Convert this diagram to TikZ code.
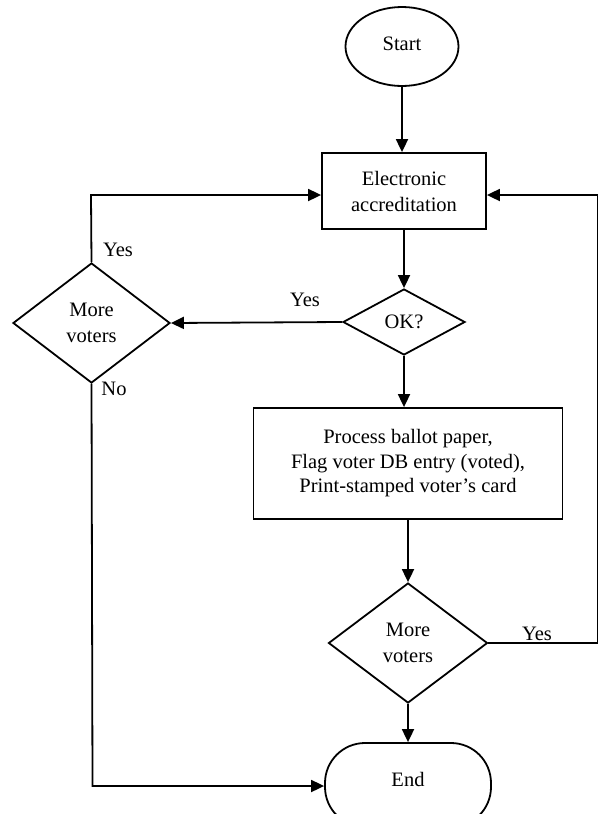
\documentclass[tikz,border=0pt]{standalone}
\usepackage{fontspec}
\setmainfont{Liberation Serif}
\usetikzlibrary{shapes.geometric,arrows.meta}
\begin{document}
\begin{tikzpicture}[x=1pt,y=-1pt,
  every node/.style={font=\fontsize{20.5}{26}\selectfont, inner sep=0pt},
  shp/.style={draw, line width=1.8pt, align=center},
  dmd/.style={shp, diamond, minimum width=#1, minimum height=120pt},
  box/.style={shp, rectangle},
  conn/.style={line width=1.8pt},
  arr/.style={conn, -{Triangle[length=13pt,width=12pt]}},
  lbl/.style={}]
\useasboundingbox (0,0) rectangle (599,814);
\clip (0,0) rectangle (599,814);
\node[shp, ellipse, minimum width=113pt, minimum height=79pt] (start) at (402,46.5) {\raisebox{6pt}{Start}};
\node[box, minimum width=164pt, minimum height=76pt] (ea) at (404,191) {Electronic\\accreditation};
\node[shp, diamond, minimum width=122pt, minimum height=66pt] (ok) at (404,322) {OK?};
\node[dmd=157pt] (lm) at (91.5,323) {More\\voters};
\node[box, minimum width=309pt, minimum height=111pt, font=\fontsize{20.5}{24.5}\selectfont] (proc) at (408,463.5) {Process ballot paper,\\Flag voter DB entry (voted),\\Print-stamped voter’s card};
\node[dmd=159pt] (md) at (408,643) {More\\voters};
\node[shp, rectangle, rounded corners=40pt, minimum width=166pt, minimum height=84pt] (end) at (408,785) {\raisebox{11pt}{End}};
\coordinate (c1) at (91,195);
\coordinate (c2) at (92.5,786);
\coordinate (c3) at (597.5,643);
\coordinate (c4) at (597.5,195);
\draw[arr] (start.south) -- (start.south |- ea.north);
\draw[arr] (ea.south) -- (ok.north);
\draw[arr] (ok.west) -- (lm.east);
\draw[arr] (lm.north) -- (c1) -- (c1 -| ea.west);
\draw[arr] (lm.south) -- (c2) -- (c2 -| end.west);
\draw[arr] (ok.south) -- (ok.south |- proc.north);
\draw[arr] (proc.south) -- (md.north);
\draw[arr] (md.east) -- (c3) -- (c4) -- (c4 -| ea.east);
\draw[arr] (md.south) -- (end.north);
\node[lbl] (y1) at (305,300) {Yes};
\node[lbl] (y2) at (118,250) {Yes};
\node[lbl] (n1) at (114,389) {No};
\node[lbl] (y3) at (537,634) {Yes};
\end{tikzpicture}
\end{document}
